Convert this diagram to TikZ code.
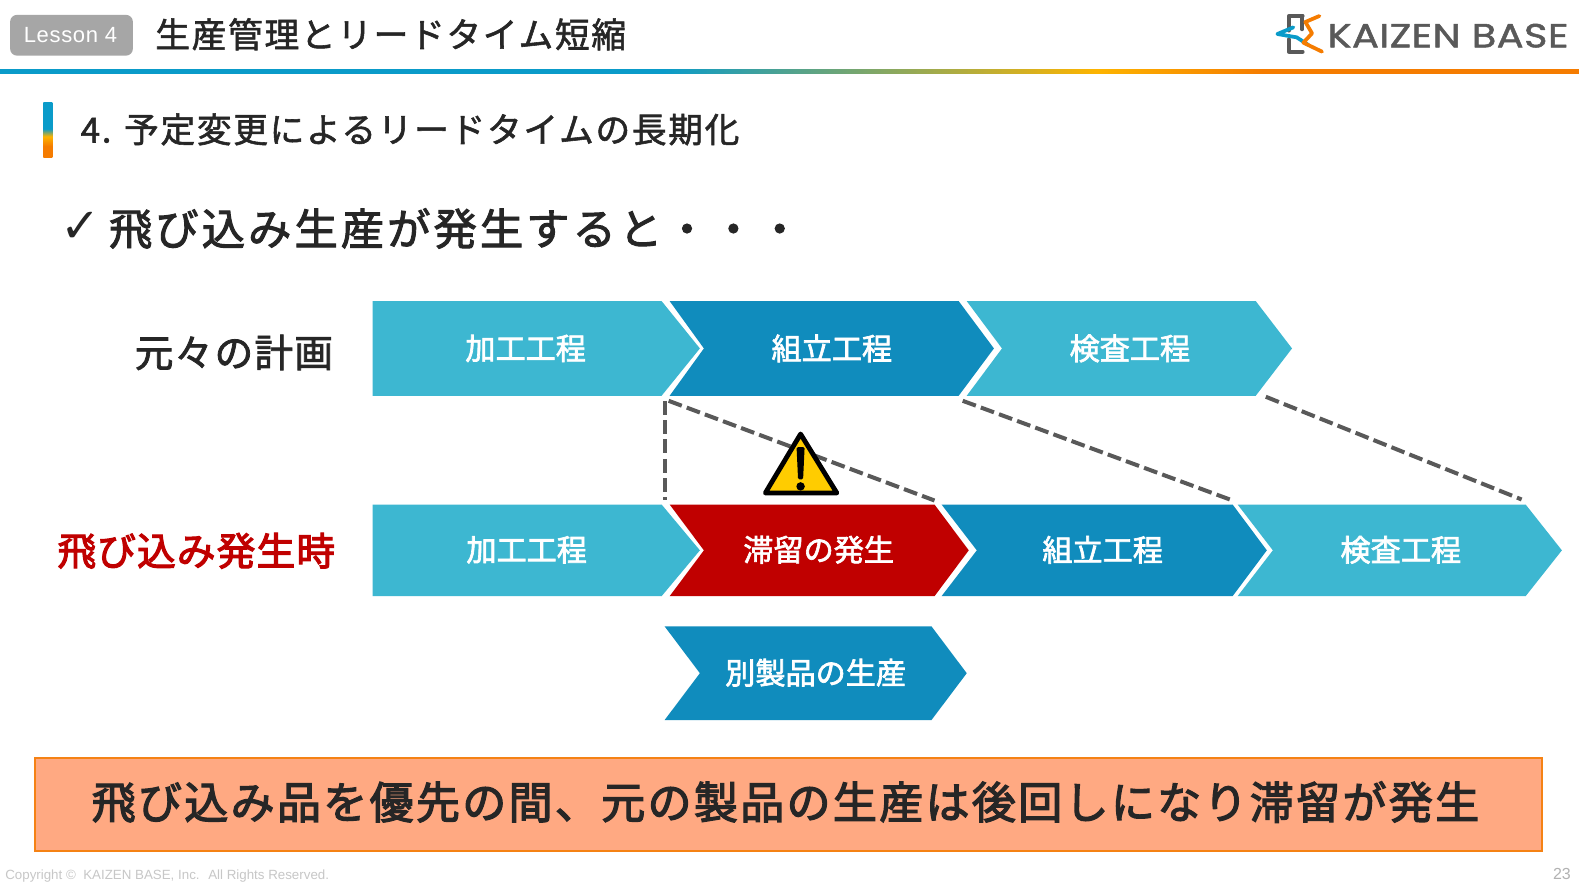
\documentclass[tikz,border=0pt]{standalone}
\usepackage{fontspec}
\setmainfont{Noto Sans CJK JP}
\newfontfamily\lat{Liberation Sans}
\newfontfamily\logofont[FakeStretch=1.2,FakeBold=1.5,LetterSpace=1.2]{Poppins}
\newfontfamily\sym{DejaVu Sans}
\definecolor{lightblue}{HTML}{3DB7D1}
\definecolor{darkblue}{HTML}{108CBD}
\definecolor{alarm}{HTML}{C00000}
\definecolor{band}{HTML}{FFA982}
\definecolor{bandline}{HTML}{F58214}
\definecolor{ink}{HTML}{262626}
\definecolor{lineblue}{HTML}{0A9BC9}
\definecolor{lineorange}{HTML}{F57C00}
\definecolor{lineyellow}{HTML}{FDB400}
\definecolor{dashgray}{HTML}{595959}
\pgfdeclarehorizontalshading{topline}{100bp}{
  color(0bp)=(lineblue); color(46bp)=(lineblue); color(59.75bp)=(lineyellow); color(65bp)=(lineorange); color(100bp)=(lineorange)}
\pgfdeclareverticalshading{sidebar}{100bp}{
  color(0bp)=(lineorange); color(35bp)=(lineorange); color(44bp)=(lineyellow); color(51bp)=(lineblue); color(100bp)=(lineblue)}
\newcommand{\chev}[7]{%
  \fill[#7] (#1,#5) -- (#3,#5) -- (#4,{(#5+#6)/2}) -- (#3,#6) -- (#1,#6) -- (#2,{(#5+#6)/2}) -- cycle;
}
\newcommand{\plate}[6]{%
  \fill[#6] (#1,#4) -- (#2,#4) -- (#3,{(#4+#5)/2}) -- (#2,#5) -- (#1,#5) -- cycle;
}
\tikzset{
  chevtext/.style={text=white,inner sep=0pt,font=\fontsize{22.6pt}{26pt}\selectfont\addfontfeature{FakeBold=2.2}},
  dashconn/.style={draw=dashgray,line width=3pt,dash pattern=on 10.5pt off 4pt},
  plain/.style={inner sep=0pt,anchor=west},
}
\begin{document}
\begin{tikzpicture}[x=0.7553pt,y=-0.7553pt]
\useasboundingbox (0,0) rectangle (1568,881.7);
\fill[white] (0,0) rectangle (1568,881.7);
% header
\node[fill=black!35,rounded corners=5pt,minimum width=92pt,minimum height=30.5pt,inner sep=0pt] (lesson) at (71,35) {};
\node[text=white,inner sep=0pt,font=\lat\fontsize{16.5pt}{18pt}\selectfont\addfontfeature{LetterSpace=3}] (lessontxt) at (70,34.5) {Lesson 4};
\node[plain,text=ink,font=\fontsize{26pt}{30pt}\selectfont\addfontfeature{LetterSpace=5,FakeBold=1.6}] (title) at (154,34) {生産管理とリードタイム短縮};
% gradient line
\shade[shading=topline] (0,69.5) rectangle (1568,73);
% logo
\begin{scope}[shift={(1231.4,0)},x=0.25pt,y=-0.25pt,line join=round,line cap=round]
 \draw[dashgray,line width=2.8pt] (188,48) -- (146,48) -- (146,92);
 \draw[dashgray,line width=2.8pt] (146,118) -- (146,155) -- (188,155) ;
 \draw[dashgray,line width=2.8pt] (186,48) -- (186,88);
 \draw[lineblue,line width=2.8pt] (160,82) -- (112,102) -- (170,112) -- (205,135);
 \draw[lineorange,line width=2.8pt] (238,48) -- (196,66) -- (216,100) -- (190,128) -- (246,155);
 \node[text=dashgray,inner sep=0pt,anchor=west,font=\logofont\fontsize{25pt}{28pt}\selectfont] (logo) at (262,107) {KAIZEN BASE};
\end{scope}
% section heading
\shade[shading=sidebar] (43,102) rectangle (52,156);
\node[plain,text=ink,font=\fontsize{26pt}{30pt}\selectfont\addfontfeature{LetterSpace=5,FakeBold=1.6}] (section) at (80,128.5) {4. 予定変更によるリードタイムの長期化};
% check line
\node[inner sep=0pt,text=ink,font=\sym\fontsize{36pt}{38pt}\selectfont] (check) at (80,226) {✓};
\node[plain,text=ink,font=\fontsize{32.5pt}{36pt}\selectfont\addfontfeature{LetterSpace=7,FakeBold=2.2}] (lead) at (108,227) {飛び込み生産が発生すると・・・};
% row labels
\node[inner sep=0pt,anchor=east,text=ink,font=\fontsize{29pt}{32pt}\selectfont\addfontfeature{LetterSpace=3.2,FakeBold=2}] (planlab) at (331,350) {元々の計画};
\node[inner sep=0pt,anchor=east,text=alarm,font=\fontsize{29pt}{32pt}\selectfont\addfontfeature{LetterSpace=3,FakeBold=2.8}] (rushlab) at (333,547) {飛び込み発生時};
% dashed connectors
\coordinate (d1a) at (660,398); \coordinate (d1b) at (660,497);
\coordinate (d2a) at (664,398); \coordinate (d2b) at (928,497);
\coordinate (d3a) at (956,398); \coordinate (d3b) at (1224,497);
\coordinate (d4a) at (1257,394); \coordinate (d4b) at (1511,496);
\draw[dashconn] (d1a) -- (d1b);
\draw[dashconn] (d2a) -- (d2b);
\draw[dashconn] (d3a) -- (d3b);
\draw[dashconn] (d4a) -- (d4b);
% top row
\plate{370}{657}{695}{299}{393}{lightblue}
\chev{665}{699}{952}{987}{299}{393}{darkblue}
\chev{960}{995}{1247}{1283}{299}{393}{lightblue}
\node[chevtext] (a1t) at (522,346) {加工工程};
\node[chevtext] (a2t) at (826,346) {組立工程};
\node[chevtext] (a3t) at (1122,346) {検査工程};
% second row
\plate{370}{657}{695}{501}{592}{lightblue}
\chev{665}{699}{928}{962}{501}{592}{alarm}
\chev{935}{970}{1224}{1258}{501}{592}{darkblue}
\chev{1229}{1264}{1515}{1551}{501}{592}{lightblue}
\node[chevtext] (b1t) at (523,546) {加工工程};
\node[chevtext] (b2t) at (813,546) {滞留の発生};
\node[chevtext] (b3t) at (1095,546) {組立工程};
\node[chevtext] (b4t) at (1391,546) {検査工程};
% other product
\chev{660}{695}{925}{960}{622}{715}{darkblue}
\node[chevtext] (c1t) at (810,668) {別製品の生産};
% warning
\draw[line width=3.6pt,line join=round,draw=black,fill={rgb,255:red,255;green,204;blue,0}] (795,431) -- (831,489.5) -- (760,489.5) -- cycle;
\fill[black,rounded corners=1pt] (791,444) -- (799,444) -- (797.5,476) -- (792.5,476) -- cycle;
\fill[black] (795,483) circle (4.2);
% band
\node[draw=bandline,line width=1.6pt,fill=band,minimum width=1130pt,minimum height=69.8pt,inner sep=0pt] (bandbox) at (783,799) {};
\node[text=ink,inner sep=0pt,font=\fontsize{33pt}{36pt}\selectfont\addfontfeature{LetterSpace=5.3,FakeBold=2.8}] (bandtxt) at (780,796.5) {飛び込み品を優先の間、元の製品の生産は後回しになり滞留が発生};
% footer
\node[plain,text=black!22,font=\lat\fontsize{10pt}{11pt}\selectfont] (copy) at (5,870) {Copyright © \ KAIZEN BASE, Inc. \ All Rights Reserved.};
\node[text=black!30,inner sep=0pt,font=\lat\fontsize{12pt}{14pt}\selectfont] (page) at (1551,868) {23};
\end{tikzpicture}
\end{document}
